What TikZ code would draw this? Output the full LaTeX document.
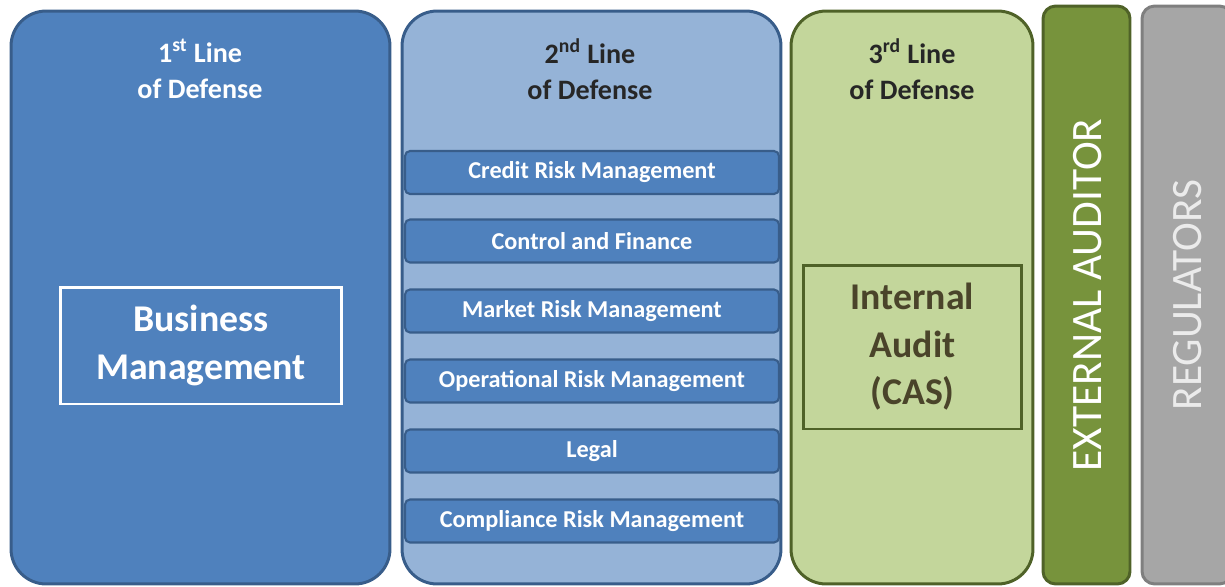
\documentclass[tikz,border=0pt]{standalone}
\usepackage{fontspec}
\setmainfont{Carlito}
\usetikzlibrary{positioning}

\definecolor{bluefill}{HTML}{4F81BD}
\definecolor{blueline}{HTML}{385D8A}
\definecolor{lightblue}{HTML}{95B3D7}
\definecolor{lightgreen}{HTML}{C3D69B}
\definecolor{greenline}{HTML}{4F6228}
\definecolor{olive}{HTML}{77933C}
\definecolor{greyfill}{HTML}{A6A6A6}
\definecolor{greyline}{HTML}{7F7F7F}
\definecolor{audittext}{HTML}{4A442A}

\tikzset{
	column/.style={rounded corners=0.7cm, line width=1.7pt, inner sep=0pt},
	side/.style={rounded corners=0.25cm, line width=1.7pt, inner sep=0pt, minimum height=11.56cm},
	head/.style={align=center, font=\bfseries\fontsize{16}{20.5}\selectfont},
	bar/.style={fill=bluefill, draw=blueline, line width=1.2pt, rounded corners=0.1cm,
		minimum width=7.48cm, minimum height=0.86cm, inner sep=0pt,
		text=white, font=\bfseries\fontsize{13.8}{16}\selectfont},
	unit/.style={line width=1.7pt, inner sep=0pt, align=center, font=\bfseries\fontsize{21.5}{27}\selectfont},
	vert/.style={rotate=90, font=\fontsize{24.7}{30}\selectfont}
}

\begin{document}
\begin{tikzpicture}[x=0.02cm, y=-0.02cm]
	\useasboundingbox (0,0) rectangle (1225,586);

	% first line
	\node[column, fill=bluefill, draw=blueline, minimum width=7.58cm, minimum height=11.46cm] (first) at (200.5,297.5) {};
	\node[head, text=white] (firsthead) at (200,69) {1\textsuperscript{st} Line\\of Defense};
	\node[unit, draw=white, text=white, minimum width=5.64cm, minimum height=2.34cm] (bm) at (201,345.5) {Business\\Management};

	% second line
	\node[column, fill=lightblue, draw=blueline, minimum width=7.58cm, minimum height=11.46cm] (second) at (591.5,297.5) {};
	\node[head, text=black!85] (secondhead) at (590,69) {2\textsuperscript{nd} Line\\of Defense};
	\node[bar] (crm) at (592,172.5) {Credit Risk Management};
	\node[bar] (caf) at (592,241) {Control and Finance};
	\node[bar] (mrm) at (592,311) {Market Risk Management};
	\node[bar] (orm) at (592,381) {Operational Risk Management};
	\node[bar] (leg) at (592,451) {Legal};
	\node[bar] (crmc) at (592,521) {Compliance Risk Management};

	% third line
	\node[column, fill=lightgreen, draw=greenline, minimum width=4.84cm, minimum height=11.46cm] (third) at (912,297.5) {};
	\node[head, text=black!85] (thirdhead) at (912,69) {3\textsuperscript{rd} Line\\of Defense};
	\node[unit, draw=greenline, text=audittext, minimum width=4.38cm, minimum height=3.28cm] (ia) at (912.5,347) {Internal\\Audit\\(CAS)};

	% outside
	\node[side, fill=olive, draw=greenline, minimum width=1.74cm] (ext) at (1086.5,295) {};
	\node[vert, text=white] (exttext) at (1088,295) {EXTERNAL AUDITOR};
	\node[side, fill=greyfill, draw=greyline, minimum width=1.8cm] (reg) at (1187,295) {};
	\node[vert, text=white!92!black] (regtext) at (1188,295) {REGULATORS};
\end{tikzpicture}
\end{document}
